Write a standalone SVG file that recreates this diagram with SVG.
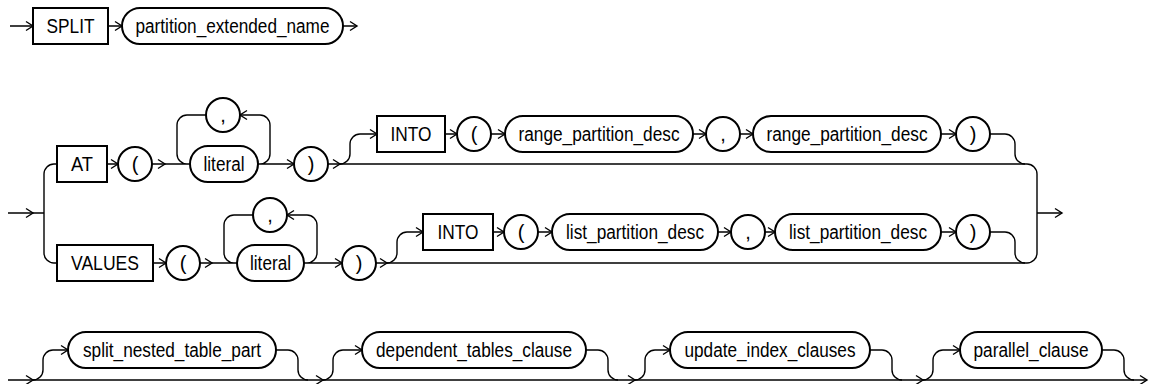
<svg xmlns="http://www.w3.org/2000/svg" width="1150" height="384" viewBox="0 0 1150 384">
<defs>
<style>
.n{fill:#fff;stroke:#000;stroke-width:2}
.t{font-family:"Liberation Sans",Arial,sans-serif;font-size:20px;fill:#000;text-anchor:middle}
.c{fill:none;stroke:#000;stroke-width:1.4}
.ah{fill:none;stroke:#000;stroke-width:1.4}
</style>
<path id="ar" d="M-7,-4.5 L0,0 L-7,4.5" class="ah"/>
<path id="al" d="M7,-4.5 L0,0 L7,4.5" class="ah"/>
</defs>
<rect width="1150" height="384" fill="#fff"/>
<g id="connectors">
<path class="c" d="M10,26 H33 M108,26 H122 M343,26 H357"/>
<use href="#ar" x="33" y="26"/><use href="#ar" x="122" y="26"/><use href="#ar" x="357" y="26"/>
<path class="c" d="M8,213 H44"/>
<use href="#ar" x="33" y="213"/>
<path class="c" d="M57,164 H54 a10,10 0 0 0 -10,10 V253 a10,10 0 0 0 10,10 H57"/>
<path class="c" d="M107,164 H118 M152,164 H190 M207,115 H187 a10,10 0 0 0 -10,10 V154 a10,10 0 0 0 10,10 M260,164 a10,10 0 0 0 10,-10 V125 a10,10 0 0 0 -10,-10 H240 M258,164 H294 M328,164 H1027"/>
<use href="#ar" x="118" y="164"/><use href="#ar" x="165" y="164"/><use href="#al" x="240" y="115"/><use href="#ar" x="294" y="164"/><use href="#ar" x="340" y="164"/>
<path class="c" d="M1027,164 a10,10 0 0 1 10,10 V253 a10,10 0 0 1 -10,10 M1037,213 H1062"/>
<use href="#ar" x="1062" y="213"/>
<path class="c" d="M340,164 a10,10 0 0 0 10,-10 V144 a10,10 0 0 1 10,-10 H377 M445,134 H457 M491,134 H505 M693,134 H706 M740,134 H753 M941,134 H956 M990,134 H1005 a10,10 0 0 1 10,10 V154 a10,10 0 0 0 10,10"/>
<use href="#ar" x="377" y="134"/><use href="#ar" x="457" y="134"/><use href="#ar" x="505" y="134"/><use href="#ar" x="706" y="134"/><use href="#ar" x="753" y="134"/><use href="#ar" x="956" y="134"/>
<path class="c" d="M153,263 H166 M200,263 H237 M253,215 H234 a10,10 0 0 0 -10,10 V253 a10,10 0 0 0 10,10 M307,263 a10,10 0 0 0 10,-10 V225 a10,10 0 0 0 -10,-10 H287 M304,263 H342 M376,263 H1027"/>
<use href="#ar" x="166" y="263"/><use href="#ar" x="212" y="263"/><use href="#al" x="287" y="215"/><use href="#ar" x="342" y="263"/><use href="#ar" x="387" y="263"/>
<path class="c" d="M387,263 a10,10 0 0 0 10,-10 V242 a10,10 0 0 1 10,-10 H423 M493,232 H504 M538,232 H552 M718,232 H731 M765,232 H775 M941,232 H956 M990,232 H1005 a10,10 0 0 1 10,10 V253 a10,10 0 0 0 10,10"/>
<use href="#ar" x="423" y="232"/><use href="#ar" x="504" y="232"/><use href="#ar" x="552" y="232"/><use href="#ar" x="731" y="232"/><use href="#ar" x="775" y="232"/><use href="#ar" x="956" y="232"/>
<path class="c" d="M8,380 H1147"/>
<use href="#ar" x="33" y="380"/><use href="#ar" x="323" y="380"/><use href="#ar" x="635" y="380"/><use href="#ar" x="923" y="380"/><use href="#ar" x="1147" y="380"/>
<path class="c" d="M33,380 a10,10 0 0 0 10,-10 V360 a10,10 0 0 1 10,-10 H68 M323,380 a10,10 0 0 0 10,-10 V360 a10,10 0 0 1 10,-10 H362 M635,380 a10,10 0 0 0 10,-10 V360 a10,10 0 0 1 10,-10 H670 M923,380 a10,10 0 0 0 10,-10 V360 a10,10 0 0 1 10,-10 H960"/>
<use href="#ar" x="68" y="350"/><use href="#ar" x="362" y="350"/><use href="#ar" x="670" y="350"/><use href="#ar" x="960" y="350"/>
<path class="c" d="M276,350 H288 a10,10 0 0 1 10,10 V370 a10,10 0 0 0 10,10 M586,350 H598 a10,10 0 0 1 10,10 V370 a10,10 0 0 0 10,10 M870,350 H882 a10,10 0 0 1 10,10 V370 a10,10 0 0 0 10,10 M1102,350 H1114 a10,10 0 0 1 10,10 V370 a10,10 0 0 0 10,10"/>
</g>
<g id="split"><rect class="n" x="33" y="8" width="75" height="36"/><text class="t" x="70.5" y="33" textLength="48" lengthAdjust="spacingAndGlyphs">SPLIT</text></g>
<g id="partition_extended_name"><rect class="n" x="122" y="8" width="221" height="36" rx="18"/><text class="t" x="232.5" y="33" textLength="194" lengthAdjust="spacingAndGlyphs">partition_extended_name</text></g>
<g id="at"><rect class="n" x="57" y="146" width="50" height="36"/><text class="t" x="82" y="171" textLength="22" lengthAdjust="spacingAndGlyphs">AT</text></g>
<g id="at_lparen"><circle class="n" cx="135" cy="164" r="17"/><text class="t" x="135" y="171">(</text></g>
<g id="at_literal"><rect class="n" x="190" y="146" width="68" height="36" rx="18"/><text class="t" x="224" y="171" textLength="41" lengthAdjust="spacingAndGlyphs">literal</text></g>
<g id="at_comma"><circle class="n" cx="223" cy="115" r="17"/><text class="t" x="223" y="122">,</text></g>
<g id="at_rparen"><circle class="n" cx="311" cy="164" r="17"/><text class="t" x="311" y="171">)</text></g>
<g id="into1"><rect class="n" x="377" y="116" width="68" height="36"/><text class="t" x="411" y="141" textLength="41" lengthAdjust="spacingAndGlyphs">INTO</text></g>
<g id="into1_lparen"><circle class="n" cx="474" cy="134" r="17"/><text class="t" x="474" y="141">(</text></g>
<g id="range1"><rect class="n" x="505" y="116" width="188" height="36" rx="18"/><text class="t" x="599" y="141" textLength="161" lengthAdjust="spacingAndGlyphs">range_partition_desc</text></g>
<g id="into1_comma"><circle class="n" cx="723" cy="134" r="17"/><text class="t" x="723" y="141">,</text></g>
<g id="range2"><rect class="n" x="753" y="116" width="188" height="36" rx="18"/><text class="t" x="847" y="141" textLength="161" lengthAdjust="spacingAndGlyphs">range_partition_desc</text></g>
<g id="into1_rparen"><circle class="n" cx="973" cy="134" r="17"/><text class="t" x="973" y="141">)</text></g>
<g id="values"><rect class="n" x="57" y="245" width="96" height="36"/><text class="t" x="105" y="270" textLength="68" lengthAdjust="spacingAndGlyphs">VALUES</text></g>
<g id="values_lparen"><circle class="n" cx="183" cy="263" r="17"/><text class="t" x="183" y="270">(</text></g>
<g id="values_literal"><rect class="n" x="237" y="245" width="67" height="36" rx="18"/><text class="t" x="270.5" y="270" textLength="41" lengthAdjust="spacingAndGlyphs">literal</text></g>
<g id="values_comma"><circle class="n" cx="270" cy="215" r="17"/><text class="t" x="270" y="222">,</text></g>
<g id="values_rparen"><circle class="n" cx="359" cy="263" r="17"/><text class="t" x="359" y="270">)</text></g>
<g id="into2"><rect class="n" x="423" y="214" width="70" height="36"/><text class="t" x="458" y="239" textLength="41" lengthAdjust="spacingAndGlyphs">INTO</text></g>
<g id="into2_lparen"><circle class="n" cx="521" cy="232" r="17"/><text class="t" x="521" y="239">(</text></g>
<g id="list1"><rect class="n" x="552" y="214" width="166" height="36" rx="18"/><text class="t" x="635" y="239" textLength="138" lengthAdjust="spacingAndGlyphs">list_partition_desc</text></g>
<g id="into2_comma"><circle class="n" cx="748" cy="232" r="17"/><text class="t" x="748" y="239">,</text></g>
<g id="list2"><rect class="n" x="775" y="214" width="166" height="36" rx="18"/><text class="t" x="858" y="239" textLength="138" lengthAdjust="spacingAndGlyphs">list_partition_desc</text></g>
<g id="into2_rparen"><circle class="n" cx="973" cy="232" r="17"/><text class="t" x="973" y="239">)</text></g>
<g id="split_nested_table_part"><rect class="n" x="68" y="332" width="208" height="36" rx="18"/><text class="t" x="172" y="357" textLength="178" lengthAdjust="spacingAndGlyphs">split_nested_table_part</text></g>
<g id="dependent_tables_clause"><rect class="n" x="362" y="332" width="224" height="36" rx="18"/><text class="t" x="474" y="357" textLength="196" lengthAdjust="spacingAndGlyphs">dependent_tables_clause</text></g>
<g id="update_index_clauses"><rect class="n" x="670" y="332" width="200" height="36" rx="18"/><text class="t" x="770" y="357" textLength="171" lengthAdjust="spacingAndGlyphs">update_index_clauses</text></g>
<g id="parallel_clause"><rect class="n" x="960" y="332" width="142" height="36" rx="18"/><text class="t" x="1031" y="357" textLength="115" lengthAdjust="spacingAndGlyphs">parallel_clause</text></g>
</svg>
